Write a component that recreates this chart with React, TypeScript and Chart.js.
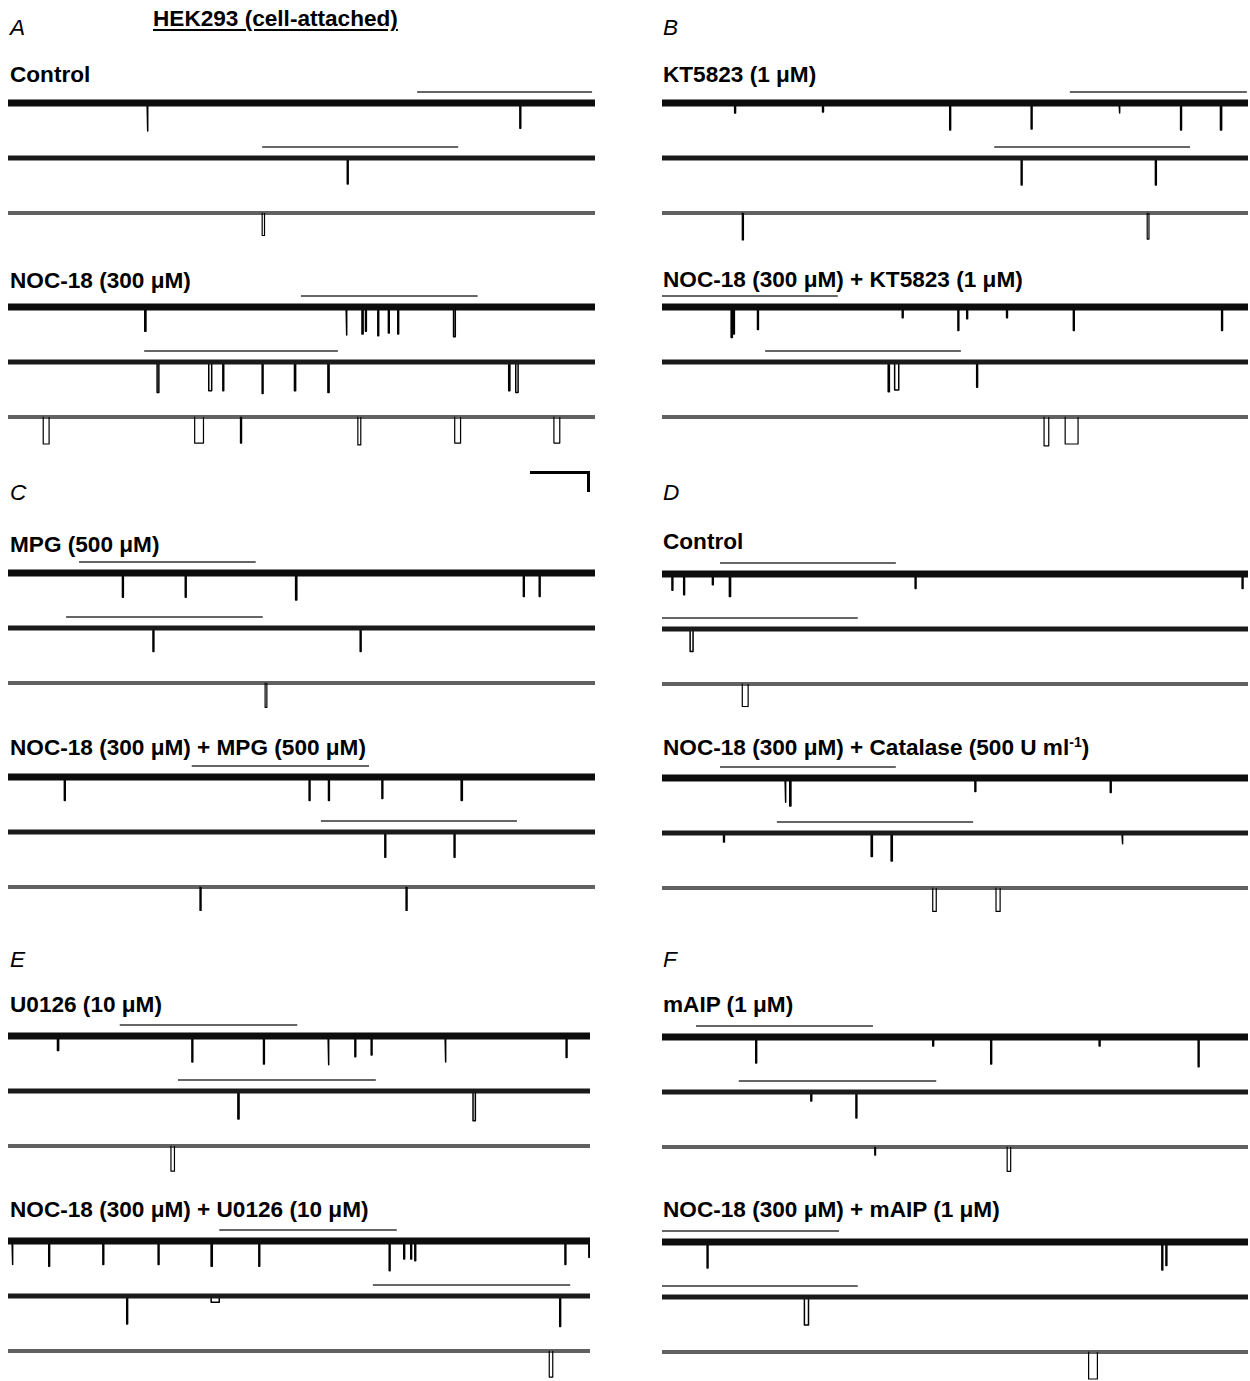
import React, { useEffect, useRef } from "react";
import { Chart, registerables } from "chart.js";

Chart.register(...registerables);

// Event = [time (normalised 0..1000), duration, amplitude in pA (downward)]
type Ev = [number, number, number];
type Seg = [number, number];

// ---------- DATA ----------
// A: Control
const aCtrlR1: Ev[] = [[237, 1.5, 3.1], [872, 1.5, 2.8]];
const aCtrlR2: Ev[] = [[578, 1.5, 2.9]];
const aCtrlR3: Ev[] = [[433, 4, 2.5]];
const aCtrlSegs: Seg[] = [[697, 995], [433, 767]];
// A: NOC-18
const aNocR1: Ev[] = [[233, 2, 2.7], [576, 1.5, 3.1], [603, 2, 3.0], [609, 1.5, 2.7], [630, 1.5, 3.2], [648, 1.5, 2.9], [664, 1.5, 3.0], [759, 3, 3.3]];
const aNocR2: Ev[] = [[254, 3, 3.4], [342, 5, 3.2], [366, 1.5, 3.2], [433, 1.5, 3.5], [488, 2, 3.2], [545, 2, 3.4], [853, 2, 3.2], [865, 4, 3.4]];
const aNocR3: Ev[] = [[60, 10, 3.0], [318, 15, 2.9], [396, 2, 2.9], [596, 5, 3.1], [761, 10, 2.9], [930, 10, 2.9]];
const aNocSegs: Seg[] = [[499, 800], [232, 562]];
// B: KT5823
const bKtR1: Ev[] = [[124, 1.5, 1.1], [274, 1.5, 1.0], [491, 1.5, 3.0], [630, 1.5, 2.9], [780, 1.5, 1.1], [885, 1.5, 3.0], [953, 2, 3.0]];
const bKtR2: Ev[] = [[613, 1.5, 3.0], [842, 1.5, 3.0]];
const bKtR3: Ev[] = [[137, 2, 3.0], [828, 3, 2.9]];
const bKtSegs: Seg[] = [[696, 998], [567, 901]];
// B: NOC-18 + KT5823
const bNocR1: Ev[] = [[118, 2, 3.4], [122, 1.5, 3.0], [163, 1.5, 2.5], [410, 1.5, 1.2], [505, 1.5, 2.6], [520, 1.5, 1.3], [588, 1.5, 1.2], [702, 1.5, 2.6], [955, 1.5, 2.6]];
const bNocR2: Ev[] = [[386, 2, 3.3], [397, 7, 3.1], [537, 1.5, 2.8]];
const bNocR3: Ev[] = [[652, 8, 3.2], [688, 22, 3.0]];
const bNocSegs: Seg[] = [[0, 300], [176, 510]];
// C: MPG
const cMpgR1: Ev[] = [[195, 1.5, 2.7], [302, 1.5, 2.7], [490, 2, 3.0], [878, 1.5, 2.6], [905, 1.5, 2.6]];
const cMpgR2: Ev[] = [[247, 1.5, 2.6], [600, 1.5, 2.6]];
const cMpgR3: Ev[] = [[438, 3, 2.7]];
const cMpgSegs: Seg[] = [[121, 422], [99, 434]];
// C: NOC-18 + MPG
const cNocR1: Ev[] = [[96, 1.5, 2.6], [513, 1.5, 2.6], [546, 1.5, 2.6], [637, 1.5, 2.4], [772, 2, 2.6]];
const cNocR2: Ev[] = [[642, 1.5, 2.8], [760, 1.5, 2.8]];
const cNocR3: Ev[] = [[327, 2, 2.6], [678, 2, 2.6]];
const cNocSegs: Seg[] = [[313, 615], [533, 867]];
// D: Control
const dCtrlR1: Ev[] = [[17, 1.5, 1.8], [37, 1.5, 2.3], [86, 1.5, 1.2], [115, 2, 2.5], [432, 1.5, 1.6], [990, 1.5, 1.6]];
const dCtrlR2: Ev[] = [[48, 5, 2.5]];
const dCtrlR3: Ev[] = [[137, 10, 2.5]];
const dCtrlSegs: Seg[] = [[99, 399], [0, 334]];
// D: NOC-18 + Catalase
const dNocR1: Ev[] = [[210, 1.5, 2.7], [218, 2, 3.1], [534, 1.5, 1.5], [765, 1.5, 1.6]];
const dNocR2: Ev[] = [[105, 1.5, 1.0], [357, 2, 2.6], [391, 2, 3.1], [785, 1.5, 1.2]];
const dNocR3: Ev[] = [[462, 6, 2.6], [570, 7, 2.6]];
const dNocSegs: Seg[] = [[99, 399], [196, 531]];
// E: U0126
const eUR1: Ev[] = [[85, 2, 1.6], [316, 1.5, 2.9], [439, 1.5, 3.1], [550, 1.5, 3.2], [596, 1.5, 2.3], [624, 1.5, 2.1], [751, 1.5, 2.9], [959, 1.5, 2.4]];
const eUR2: Ev[] = [[395, 2, 3.1], [799, 4, 3.3]];
const eUR3: Ev[] = [[280, 6, 2.8]];
const eUSegs: Seg[] = [[192, 497], [292, 632]];
// E: NOC-18 + U0126
const eNocR1: Ev[] = [[7, 1.5, 2.6], [70, 1.5, 2.8], [163, 1.5, 2.6], [258, 1.5, 2.6], [349, 2, 2.8], [431, 1.5, 2.8], [655, 1.5, 3.3], [680, 1.5, 2.0], [692, 1.5, 2.0], [699, 1.5, 2.2], [957, 1.5, 2.6], [998, 1.5, 1.8]];
const eNocR2: Ev[] = [[204, 1.5, 3.1], [349, 14, 0.7], [948, 1.5, 3.4]];
const eNocR3: Ev[] = [[930, 6, 2.9]];
const eNocSegs: Seg[] = [[363, 668], [627, 966]];
// F: mAIP
const fAipR1: Ev[] = [[160, 1.5, 2.9], [462, 1.5, 1.0], [561, 1.5, 3.0], [746, 1.5, 1.0], [915, 1.5, 3.3]];
const fAipR2: Ev[] = [[254, 1.5, 1.0], [331, 1.5, 2.9]];
const fAipR3: Ev[] = [[363, 1.5, 0.9], [589, 6, 2.7]];
const fAipSegs: Seg[] = [[58, 360], [131, 468]];
// F: NOC-18 + mAIP
const fNocR1: Ev[] = [[77, 1.5, 2.9], [853, 1.5, 3.1], [860, 1.5, 2.6]];
const fNocR2: Ev[] = [[243, 7, 3.1]];
const fNocR3: Ev[] = [[728, 15, 3.0]];
const fNocSegs: Seg[] = [[0, 302], [0, 334]];

// ---------- LAYOUT / STYLE ----------
const SPAN = 1000;
const PX_PER_PA = 9;
const ROW_GAP_PX = 55;
const TOP_PAD_PX = 20;
const CANVAS_H = 170;
const SEG_OFF_PX = 11;
const BAND_WIDTHS = [7, 5, 4];
const BAND_COLORS = ["#0d0d0d", "#1a1a1a", "rgba(0,0,0,0.62)"];
const FONT = "'Liberation Sans', Arial, Helvetica, sans-serif";
const FS = 22.6;

type GroupProps = { rows: Ev[][]; segs: Seg[]; left: number; base: number; width: number };

function TraceGroup({ rows, segs, left, base, width }: GroupProps) {
  const ref = useRef<HTMLCanvasElement>(null);
  useEffect(() => {
    if (!ref.current) return;
    const yMax = TOP_PAD_PX / PX_PER_PA;
    const yMin = yMax - CANVAS_H / PX_PER_PA;
    const rowGap = ROW_GAP_PX / PX_PER_PA;
    const datasets: any[] = [];
    rows.forEach((evs, i) => {
      const off = -i * rowGap;
      datasets.push({
        data: [{ x: 0, y: off }, { x: SPAN, y: off }],
        borderColor: BAND_COLORS[i],
        borderWidth: BAND_WIDTHS[i],
        pointRadius: 0,
      });
      const pts: any[] = [];
      evs.forEach(([t, d, a]) => {
        pts.push({ x: t, y: off }, { x: t, y: off - a }, { x: t + d, y: off - a }, { x: t + d, y: off }, { x: t + d, y: null });
      });
      datasets.push({
        data: pts,
        borderColor: "#000",
        borderWidth: i === 2 ? 1.2 : 1.5,
        borderJoinStyle: "round",
        pointRadius: 0,
        spanGaps: false,
      });
    });
    segs.forEach(([s, e], i) => {
      const y = -i * rowGap + SEG_OFF_PX / PX_PER_PA;
      datasets.push({
        data: [{ x: s, y }, { x: e, y }],
        borderColor: "#333",
        borderWidth: 1.4,
        pointRadius: 0,
      });
    });
    const chart = new Chart(ref.current, {
      type: "line",
      data: { datasets },
      options: {
        animation: false,
        responsive: false,
        events: [],
        layout: { padding: 0 },
        plugins: { legend: { display: false }, tooltip: { enabled: false } },
        scales: {
          x: { type: "linear", min: 0, max: SPAN, display: false },
          y: { type: "linear", min: yMin, max: yMax, display: false },
        },
      },
    });
    return () => chart.destroy();
  }, []);
  return (
    <canvas
      ref={ref}
      width={width}
      height={CANVAS_H}
      style={{ position: "absolute", left, top: base - TOP_PAD_PX, width, height: CANVAS_H }}
    />
  );
}

const GROUPS: GroupProps[] = [
  { rows: [aCtrlR1, aCtrlR2, aCtrlR3], segs: aCtrlSegs, left: 8, base: 103, width: 587 },
  { rows: [aNocR1, aNocR2, aNocR3], segs: aNocSegs, left: 8, base: 307, width: 587 },
  { rows: [bKtR1, bKtR2, bKtR3], segs: bKtSegs, left: 662, base: 103, width: 586 },
  { rows: [bNocR1, bNocR2, bNocR3], segs: bNocSegs, left: 662, base: 307, width: 586 },
  { rows: [cMpgR1, cMpgR2, cMpgR3], segs: cMpgSegs, left: 8, base: 573, width: 587 },
  { rows: [cNocR1, cNocR2, cNocR3], segs: cNocSegs, left: 8, base: 777, width: 587 },
  { rows: [dCtrlR1, dCtrlR2, dCtrlR3], segs: dCtrlSegs, left: 662, base: 574, width: 586 },
  { rows: [dNocR1, dNocR2, dNocR3], segs: dNocSegs, left: 662, base: 778, width: 586 },
  { rows: [eUR1, eUR2, eUR3], segs: eUSegs, left: 8, base: 1036, width: 582 },
  { rows: [eNocR1, eNocR2, eNocR3], segs: eNocSegs, left: 8, base: 1241, width: 582 },
  { rows: [fAipR1, fAipR2, fAipR3], segs: fAipSegs, left: 662, base: 1037, width: 586 },
  { rows: [fNocR1, fNocR2, fNocR3], segs: fNocSegs, left: 662, base: 1242, width: 586 },
];

const LETTERS: [string, number, number][] = [
  ["A", 10, 28], ["B", 663, 28], ["C", 10, 493], ["D", 663, 493], ["E", 10, 960], ["F", 663, 960],
];

const TITLES: [React.ReactNode, number, number][] = [
  ["Control", 10, 75],
  ["NOC-18 (300 μM)", 10, 281],
  ["KT5823 (1 μM)", 663, 75],
  ["NOC-18 (300 μM) + KT5823 (1 μM)", 663, 280],
  ["MPG (500 μM)", 10, 545],
  ["NOC-18 (300 μM) + MPG (500 μM)", 10, 748],
  ["Control", 663, 542],
  [<>NOC-18 (300 μM) + Catalase (500 U ml<sup style={{ fontSize: 14, verticalAlign: 0, position: "relative", top: -8 }}>-1</sup>)</>, 663, 748],
  ["U0126 (10 μM)", 10, 1005],
  ["NOC-18 (300 μM) + U0126 (10 μM)", 10, 1210],
  ["mAIP (1 μM)", 663, 1005],
  ["NOC-18 (300 μM) + mAIP (1 μM)", 663, 1210],
];

export default function App() {
  return (
    <div style={{ position: "absolute", left: 0, top: 0, width: 1250, height: 1381, background: "#fff", fontFamily: FONT, color: "#000", overflow: "hidden" }}>
      {LETTERS.map(([l, x, y]) => (
        <div key={l} style={{ position: "absolute", left: x, top: y - 11, fontSize: FS, lineHeight: "22px", fontStyle: "italic" }}>{l}</div>
      ))}
      <div style={{ position: "absolute", left: 153, top: 8, fontSize: FS, lineHeight: "22px", fontWeight: "bold", textDecoration: "underline", textDecorationThickness: 2, textUnderlineOffset: 3, whiteSpace: "nowrap" }}>
        HEK293 (cell-attached)
      </div>
      {TITLES.map(([t, x, y], i) => (
        <div key={i} style={{ position: "absolute", left: x, top: y - 11, fontSize: FS, lineHeight: "22px", fontWeight: "bold", whiteSpace: "nowrap" }}>{t}</div>
      ))}
      {GROUPS.map((g, i) => (
        <TraceGroup key={i} {...g} />
      ))}
      <div style={{ position: "absolute", left: 530, top: 471, width: 57, height: 18, borderTop: "3px solid #000", borderRight: "3px solid #000" }} />
    </div>
  );
}
